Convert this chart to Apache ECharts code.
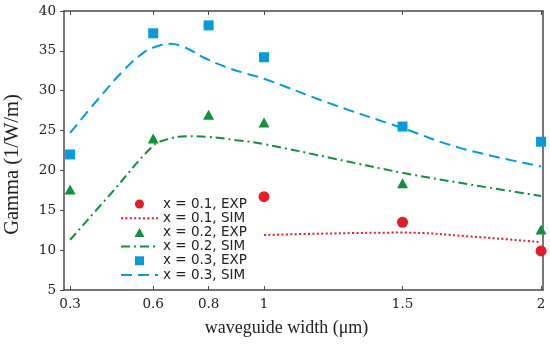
<!DOCTYPE html>
<html>
<head>
<meta charset="utf-8">
<script src="https://cdn.jsdelivr.net/npm/echarts@6/dist/echarts.min.js"></script>
<style>html,body{margin:0;padding:0;background:#fff;}#c{width:550px;height:345px;}</style>
</head>
<body>
<div id="c"></div>
<script>
// Tick positions / categories (waveguide width, µm)
var xTicks = [0.3, 0.6, 0.8, 1, 1.5, 2];
var yTicks = [5, 10, 15, 20, 25, 30, 35, 40];

// Experimental data
var exp01X = [1, 1.5, 2];
var exp01Y = [16.7, 13.5, 9.9];
var exp02X = [0.3, 0.6, 0.8, 1, 1.5, 2];
var exp02Y = [17.6, 24.0, 27.0, 26.0, 18.4, 12.6];
var exp03X = [0.3, 0.6, 0.8, 1, 1.5, 2];
var exp03Y = [22.0, 37.2, 38.2, 34.2, 25.5, 23.6];

// Simulated curves
var sim01X = [1, 1.25, 1.5, 1.75, 2];
var sim01Y = [11.9, 12.1, 12.2, 11.7, 11.0];
var sim02X = [0.3, 0.45, 0.6, 0.65, 0.72, 0.8, 0.9, 1, 1.25, 1.5, 1.75, 2];
var sim02Y = [11.3, 17.2, 23.1, 23.9, 24.3, 24.2, 23.8, 23.3, 21.5, 19.7, 18.2, 16.8];
var sim03X = [0.3, 0.4, 0.5, 0.57, 0.6, 0.66, 0.71, 0.78, 0.86, 0.93, 1, 1.23, 1.5, 1.71, 2];
var sim03Y = [24.7, 28.9, 32.8, 34.9, 35.4, 35.9, 35.5, 34.2, 33.0, 32.2, 31.5, 28.5, 25.3, 22.8, 20.5];

var names = ['x = 0.1, EXP', 'x = 0.1, SIM', 'x = 0.2, EXP', 'x = 0.2, SIM', 'x = 0.3, EXP', 'x = 0.3, SIM'];

function pairs(xs, ys) { return xs.map(function (x, i) { return [x, ys[i]]; }); }

var RED = '#e31e26', GREEN = '#12913a', BLUE = '#079bdc';
var AX = '#4a4a4a';
var serif = '"Liberation Serif", "Times New Roman", serif';
var tickFont = '"DejaVu Serif", serif';

var chart = echarts.init(document.getElementById('c'), null, {renderer: 'canvas'});
chart.setOption({
  animation: false,
  backgroundColor: '#fff',
  grid: {left: 64, right: 7, top: 11, bottom: 55, containLabel: false, outerBoundsMode: 'none'},
  legend: {
    orient: 'vertical', left: 120, top: 197, padding: 0,
    itemWidth: 37, itemHeight: 9, itemGap: 0.2, symbolKeepAspect: true,
    textStyle: {fontFamily: '"DejaVu Sans", sans-serif', fontSize: 13.5, color: '#222', lineHeight: 14},
    data: [
      {name: names[0], icon: 'circle'},
      {name: names[1], itemStyle: {opacity: 0}},
      {name: names[2], icon: 'path://M0,9L5,0L10,9Z'},
      {name: names[3], itemStyle: {opacity: 0}},
      {name: names[4], icon: 'path://M0,0L7,0L7,7L0,7Z'},
      {name: names[5], itemStyle: {opacity: 0}}
    ]
  },
  xAxis: [{
    type: 'value', min: 0.278, max: 2.007, position: 'bottom',
    name: 'waveguide width (μm)', nameLocation: 'middle', nameGap: 29,
    nameTextStyle: {fontFamily: serif, fontSize: 18, color: '#222', padding: [0, 34, 0, 0]},
    axisLine: {show: true, onZero: false, lineStyle: {color: AX, width: 1.5}},
    axisTick: {show: true, inside: true, length: 4, customValues: xTicks, lineStyle: {color: AX}},
    axisLabel: {show: true, customValues: xTicks, margin: 7, fontFamily: tickFont, fontSize: 13.5, color: '#222',
      formatter: function (v) { return String(v); }},
    splitLine: {show: false}
  }, {
    type: 'value', min: 0.278, max: 2.007, position: 'top',
    axisLine: {show: true, onZero: false, lineStyle: {color: AX, width: 1.5}},
    axisTick: {show: true, inside: true, length: 4, customValues: xTicks, lineStyle: {color: AX}},
    axisLabel: {show: false},
    splitLine: {show: false}
  }],
  yAxis: [{
    type: 'value', min: 5, max: 40, interval: 5, position: 'left',
    name: 'Gamma (1/W/m)', nameLocation: 'middle', nameGap: 41,
    nameTextStyle: {fontFamily: serif, fontSize: 20.5, color: '#222', padding: [0, 28, 0, 0]},
    axisLine: {show: true, onZero: false, lineStyle: {color: AX, width: 1.5}},
    axisTick: {show: true, inside: false, length: 4, lineStyle: {color: AX}},
    axisLabel: {show: true, margin: 8, fontFamily: tickFont, fontSize: 13.5, color: '#222'},
    splitLine: {show: false}
  }, {
    type: 'value', min: 5, max: 40, interval: 5, position: 'right',
    axisLine: {show: true, onZero: false, lineStyle: {color: AX, width: 1.5}},
    axisTick: {show: false}, axisLabel: {show: false}, splitLine: {show: false}
  }],
  series: [
    {name: names[0], type: 'scatter', symbol: 'circle', symbolSize: 11,
      itemStyle: {color: RED, opacity: 1}, data: pairs(exp01X, exp01Y), z: 5},
    {name: names[1], type: 'line', symbol: 'none', smooth: 0.4,
      lineStyle: {color: RED, width: 2, type: [2, 2.4]}, itemStyle: {color: RED}, data: pairs(sim01X, sim01Y)},
    {name: names[2], type: 'scatter', symbol: 'triangle', symbolSize: [11, 10],
      itemStyle: {color: GREEN, opacity: 1}, data: pairs(exp02X, exp02Y), z: 5},
    {name: names[3], type: 'line', symbol: 'none', smooth: 0.4,
      lineStyle: {color: GREEN, width: 2, type: [9, 4, 2, 4]}, itemStyle: {color: GREEN}, data: pairs(sim02X, sim02Y)},
    {name: names[4], type: 'scatter', symbol: 'rect', symbolSize: 10,
      itemStyle: {color: BLUE, opacity: 1}, data: pairs(exp03X, exp03Y), z: 5},
    {name: names[5], type: 'line', symbol: 'none', smooth: 0.4,
      lineStyle: {color: BLUE, width: 2, type: [11, 6]}, itemStyle: {color: BLUE}, data: pairs(sim03X, sim03Y)}
  ]
});
</script>
</body>
</html>
